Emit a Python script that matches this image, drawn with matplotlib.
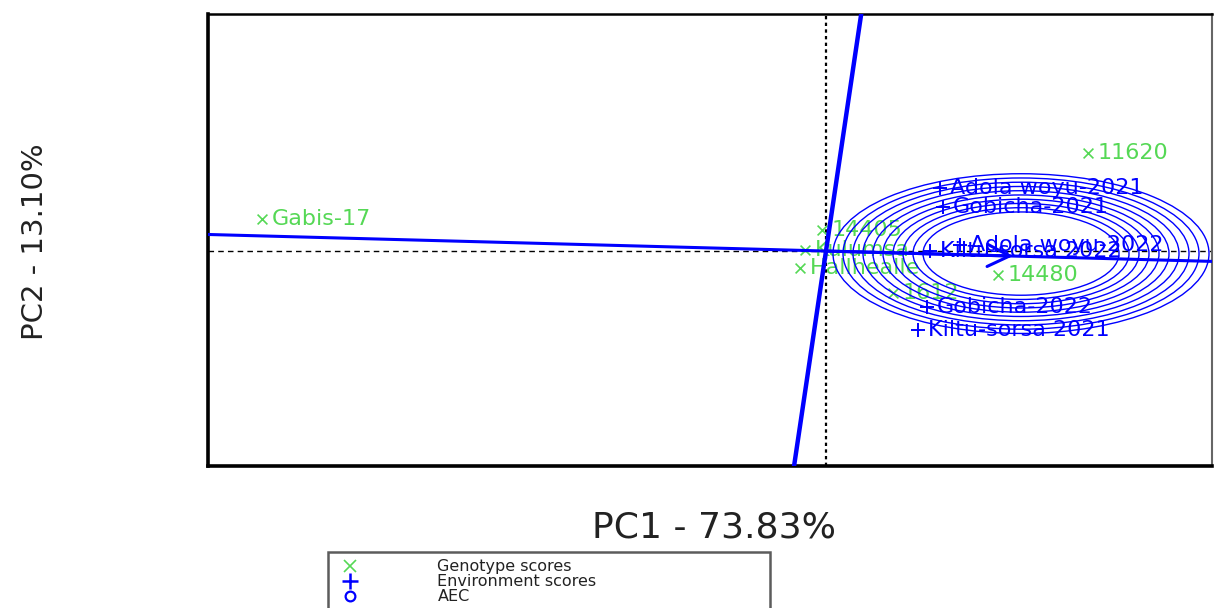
import matplotlib
matplotlib.use("Agg")
import matplotlib.pyplot as plt
from matplotlib.patches import Circle
from matplotlib.lines import Line2D

# genotype scores (PC1, PC2)
gen_names = ["11620", "Gabis-17", "14480", "1612", "14405", "Kulumsa", "Hallhealle"]
gen_pc1 = [1.31, -2.82, 0.86, 0.335, -0.02, -0.105, -0.13]
gen_pc2 = [1.153, 0.376, -0.282, -0.494, 0.247, 0.01, -0.20]

# environment scores (PC1, PC2)
env_names = ["Adola woyu-2021", "Gobicha-2021", "Adola woyu-2022",
             "Kiltu-sorsa 2022", "Gobicha-2022", "Kiltu-sorsa 2021"]
env_pc1 = [0.57, 0.585, 0.67, 0.52, 0.505, 0.46]
env_pc2 = [0.741, 0.518, 0.07, 0.0, -0.659, -0.929]

# average environment coordinate (AEC) and its concentric circles
aec_x, aec_y = 0.935, -0.059
circle_x, circle_y = 0.975, -0.03
circle_r = [0.49, 0.54, 0.59, 0.64, 0.69, 0.74, 0.79, 0.84, 0.89, 0.94]

xlim = (-3.09, 1.93)
ylim = (-2.53, 2.79)

green = "#55d855"
blue = "#0000ff"

fig = plt.figure(figsize=(12.16, 6.08), dpi=100)
ax = fig.add_axes([208 / 1216, 1 - 466 / 608, 1004 / 1216, 452 / 608])
ax.set_xlim(xlim)
ax.set_ylim(ylim)
ax.set_xticks([])
ax.set_yticks([])
for side in ["left", "bottom", "top"]:
    ax.spines[side].set_linewidth(2.6)
ax.spines["top"].set_linewidth(1.8)
ax.spines["right"].set_linewidth(1.5)
ax.spines["right"].set_color("#666666")

# origin reference lines
ax.axvline(0, color="black", lw=1.6, ls=(0, (1.5, 1.5)), zorder=1)
ax.axhline(0, color="black", lw=1.0, ls=(0, (4, 3)), zorder=1)

# AEC abscissa and ordinate
ax.axline((0, 0), (aec_x, aec_y), color=blue, lw=2.2, zorder=3)
ax.axline((0, 0), (-aec_y, aec_x), color=blue, lw=3.2, zorder=3)
ax.annotate("", xy=(aec_x, aec_y), xytext=(0, 0),
            arrowprops=dict(arrowstyle="->", color=blue, lw=2.2,
                            mutation_scale=40, shrinkA=0, shrinkB=0), zorder=4)

for r in circle_r:
    ax.add_patch(Circle((circle_x, circle_y), r, fill=False, ec=blue, lw=1.0, zorder=3))

# genotypes
ax.scatter(gen_pc1, gen_pc2, marker="x", s=50, color=green, linewidths=1.2, zorder=2)
for n, x, y in zip(gen_names, gen_pc1, gen_pc2):
    ax.annotate(n, (x, y), xytext=(7, 0), textcoords="offset points",
                color=green, fontsize=16, va="center", ha="left", zorder=2,
                annotation_clip=False)

# environments
ax.scatter(env_pc1, env_pc2, marker="+", s=100, color=blue, linewidths=1.4, zorder=5)
for n, x, y in zip(env_names, env_pc1, env_pc2):
    ax.annotate(n, (x, y), xytext=(7, 0), textcoords="offset points",
                color=blue, fontsize=16, va="center", ha="left", zorder=5,
                clip_on=True)

fig.text(714 / 1216, 1 - 528 / 608, "PC1 - 73.83%", fontsize=26,
         ha="center", va="center", color="#222222")
fig.text(35 / 1216, 1 - 242 / 608, "PC2 - 13.10%", fontsize=21,
         ha="center", va="center", rotation=90, color="#222222")

handles = [
    Line2D([], [], ls="none", marker="x", color=green, ms=8, mew=1.2),
    Line2D([], [], ls="none", marker="+", color=blue, ms=11, mew=1.8),
    Line2D([], [], ls="none", marker="o", mfc="none", mec=blue, ms=7, mew=1.6),
]
leg = fig.legend(handles, ["Genotype scores", "Environment scores", "AEC"],
                 loc="upper left",
                 bbox_to_anchor=(328 / 1216, 1 - 620 / 608, 442 / 1216, 68 / 608),
                 mode="expand", fontsize=11.5, frameon=True, fancybox=False,
                 borderpad=0.45, labelspacing=0.0, handlelength=1.8,
                 handletextpad=4.6, borderaxespad=0)
leg.get_frame().set_edgecolor("#333333")
leg.get_frame().set_linewidth(1.8)
for t in leg.get_texts():
    t.set_color("#222222")

fig.savefig("out.png", dpi=100)
